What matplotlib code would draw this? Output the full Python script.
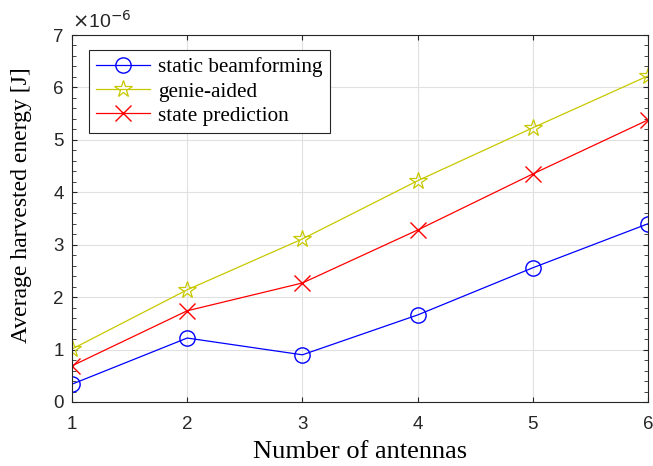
import matplotlib
matplotlib.use("Agg")
import matplotlib.pyplot as plt
import numpy as np
from matplotlib.ticker import MultipleLocator

antennas = [1, 2, 3, 4, 5, 6]
static_bf = [0.34, 1.22, 0.90, 1.66, 2.56, 3.40]
genie = [1.01, 2.14, 3.11, 4.22, 5.23, 6.22]
state_pred = [0.69, 1.74, 2.27, 3.28, 4.35, 5.38]

fig = plt.figure(figsize=(6.53, 4.66), dpi=100)
ax = fig.add_axes([72/653, 64/466, 576/653, 367/466])

ax.plot(antennas, static_bf, color='#0000ff', marker='o', markersize=11,
        markerfacecolor='none', lw=0.9, label='static beamforming')
ax.plot(antennas, genie, color='#c8c800', marker='*', markersize=13,
        markerfacecolor='none', markeredgewidth=0.9, lw=0.9, label='genie-aided')
ax.plot(antennas, state_pred, color='#ff0000', marker='x', markersize=11,
        lw=0.9, label='state prediction')

ax.set_xlim(1, 6)
ax.set_ylim(0, 7)
ax.set_xticks(antennas)
ax.yaxis.set_major_locator(MultipleLocator(1))
ax.yaxis.set_minor_locator(MultipleLocator(0.2))
ax.grid(True, which='major', color='#e0e0e0', lw=0.8)
ax.set_axisbelow(True)
ax.tick_params(which='both', direction='in', top=True, right=True,
               labelsize=13.5, colors='#262626')
ax.tick_params(axis='x', pad=10)
ax.tick_params(axis='y', pad=6)
ax.tick_params(which='minor', length=3)
for lbl in ax.get_xticklabels() + ax.get_yticklabels():
    lbl.set_family('Liberation Sans')
for s in ax.spines.values():
    s.set_color('#262626')

ax.set_xlabel('Number of antennas', family='Liberation Serif', fontsize=19)
ax.set_ylabel('Average harvested energy [J]', family='Liberation Serif', fontsize=17)
ax.xaxis.set_label_coords(0.5, -0.106)
ax.yaxis.set_label_coords(-0.07, 0.537)
ax.text(0.0, 1.008, r'$\times$10$^{-6}$', transform=ax.transAxes,
        fontsize=14, family='Liberation Sans', color='#262626', va='bottom')

leg = ax.legend(loc='upper left', bbox_to_anchor=(0.0295, 0.959),
                borderaxespad=0,
                prop={'family': 'Liberation Serif', 'size': 15.3},
                fancybox=False, edgecolor='#262626', framealpha=1,
                handlelength=2.5, borderpad=0.35, labelspacing=0.2,
                handletextpad=0.4)
leg.get_frame().set_linewidth(0.8)

fig.savefig('out.png', dpi=100)
